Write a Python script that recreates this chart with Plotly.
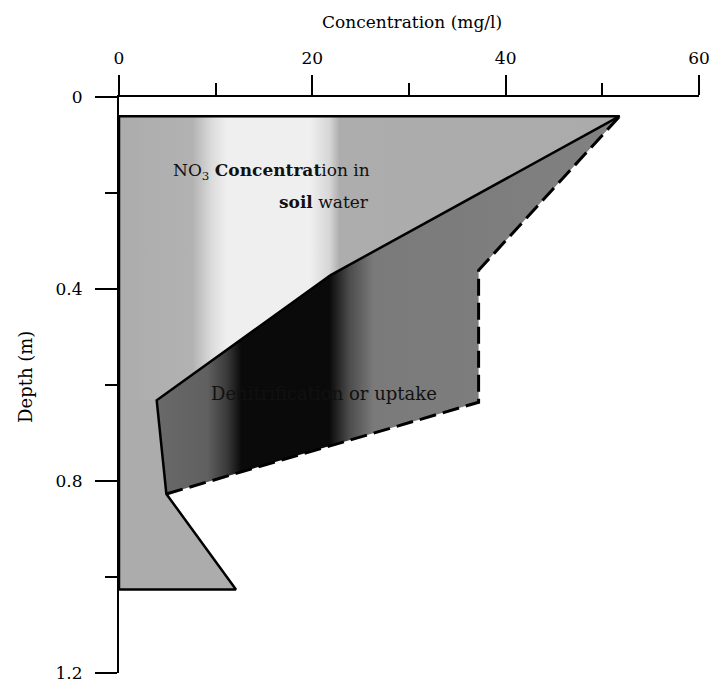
import plotly.graph_objects as go

# ---- data ----
# outline of NO3 concentration in soil water (concentration mg/l, depth m)
soil_conc = [0, 51.8, 21.9, 3.9, 4.9, 12.1, 0]
soil_depth = [0.04, 0.04, 0.371, 0.632, 0.827, 1.026, 1.026]
# dashed boundary of the denitrification / uptake zone (from bottom to top)
uptake_conc = [4.9, 37.2, 37.2, 51.8]
uptake_depth = [0.827, 0.636, 0.361, 0.04]

x_tickvals = [0, 20, 40, 60]
y_tickvals = [0, 0.4, 0.8, 1.2]
y_ticktext = ["0", "0.4", "0.8", "1.2"]

SERIF = "DejaVu Serif"

fig = go.Figure()

# whole light region (uniform gray)
fig.add_trace(go.Scatter(
    x=soil_conc + [soil_conc[0]], y=soil_depth + [soil_depth[0]],
    mode="lines", fill="toself",
    fillcolor="#acacac", line=dict(width=0, color="rgba(0,0,0,0)"),
    hoverinfo="skip", showlegend=False,
))

# upper part of light region (with the pale vertical band)
upper_x = soil_conc[0:4] + [0, soil_conc[0]]
upper_y = soil_depth[0:4] + [soil_depth[3], soil_depth[0]]
fig.add_trace(go.Scatter(
    x=upper_x, y=upper_y, mode="lines", fill="toself",
    line=dict(width=0, color="rgba(0,0,0,0)"),
    fillgradient=dict(
        type="horizontal", start=0, stop=60,
        colorscale=[
            [0.0, "#acacac"], [7.5 / 60, "#b2b2b2"], [9.5 / 60, "#dcdcdc"],
            [11 / 60, "#efefef"], [19.5 / 60, "#efefef"], [21.5 / 60, "#d6d6d6"],
            [22.5 / 60, "#adadad"], [1.0, "#aaaaaa"],
        ],
    ),
    hoverinfo="skip", showlegend=False,
))

# denitrification / uptake zone
dark_x = soil_conc[1:5] + uptake_conc[1:]
dark_y = soil_depth[1:5] + uptake_depth[1:]
fig.add_trace(go.Scatter(
    x=dark_x, y=dark_y, mode="lines", fill="toself",
    line=dict(width=0, color="rgba(0,0,0,0)"),
    fillgradient=dict(
        type="horizontal", start=0, stop=60,
        colorscale=[
            [0.0, "#707070"], [9 / 60, "#606060"], [11 / 60, "#3a3a3a"],
            [12.5 / 60, "#0a0a0a"], [21.5 / 60, "#0a0a0a"], [23.5 / 60, "#4c4c4c"],
            [26 / 60, "#7a7a7a"], [1.0, "#848484"],
        ],
    ),
    hoverinfo="skip", showlegend=False,
))

# solid outline of soil-water concentration
fig.add_trace(go.Scatter(
    x=soil_conc + [soil_conc[0]], y=soil_depth + [soil_depth[0]],
    mode="lines", line=dict(color="black", width=2.5),
    hoverinfo="skip", showlegend=False,
))

# dashed boundary
fig.add_trace(go.Scatter(
    x=uptake_conc, y=uptake_depth, mode="lines",
    line=dict(color="black", width=3, dash="17px,7px"),
    hoverinfo="skip", showlegend=False,
))

# text labels
fig.add_annotation(x=5.4, y=0.156, xref="x", yref="y", xanchor="left", yanchor="middle",
                   text="NO<sub>3</sub> <b>Concentrat</b>ion in", showarrow=False,
                   font=dict(family=SERIF, size=17, color="#111111"))
fig.add_annotation(x=16.3, y=0.219, xref="x", yref="y", xanchor="left", yanchor="middle",
                   text="<b>soil</b> water", showarrow=False,
                   font=dict(family=SERIF, size=17, color="#111111"))
fig.add_annotation(x=9.3, y=0.618, xref="x", yref="y", xanchor="left", yanchor="middle",
                   text="Denitrification or uptake", showarrow=False,
                   font=dict(family=SERIF, size=18, color="#111111"))

# axis titles (positioned in paper coords computed from pixel layout)
pw, ph = 722 - 119 - 15, 695 - 97 - 13
fig.add_annotation(x=(416 - 119) / pw, y=(682 - 21) / ph, xref="paper", yref="paper",
                   xanchor="center", yanchor="middle", text="Concentration (mg/l)",
                   showarrow=False, font=dict(family=SERIF, size=17, color="black"))
fig.add_annotation(x=(24 - 119) / pw, y=(682 - 381) / ph, xref="paper", yref="paper",
                   xanchor="center", yanchor="middle", text="Depth (m)", textangle=-90,
                   showarrow=False, font=dict(family=SERIF, size=18, color="black"))

fig.update_layout(
    width=722, height=695,
    margin=dict(l=119, r=15, t=97, b=13),
    paper_bgcolor="white", plot_bgcolor="white",
    showlegend=False,
    font=dict(family=SERIF, color="black"),
    xaxis=dict(
        side="top", range=[0, 60], showgrid=False, zeroline=False,
        showline=True, linecolor="black", linewidth=2,
        ticks="outside", ticklen=20, tickwidth=2, tickcolor="black",
        tickvals=x_tickvals, ticklabelstandoff=4,
        tickfont=dict(family=SERIF, size=17, color="black"),
        minor=dict(ticks="outside", dtick=10, ticklen=12, tickwidth=2, tickcolor="black"),
        fixedrange=True,
    ),
    yaxis=dict(
        range=[1.2, 0], showgrid=False, zeroline=False,
        showline=True, linecolor="black", linewidth=2,
        ticks="outside", ticklen=22, tickwidth=2, tickcolor="black",
        tickvals=y_tickvals, ticktext=y_ticktext, ticklabelstandoff=9,
        tickfont=dict(family=SERIF, size=17, color="black"),
        minor=dict(ticks="outside", dtick=0.2, ticklen=12, tickwidth=2, tickcolor="black"),
        fixedrange=True,
    ),
)

fig.write_html("out.html")
